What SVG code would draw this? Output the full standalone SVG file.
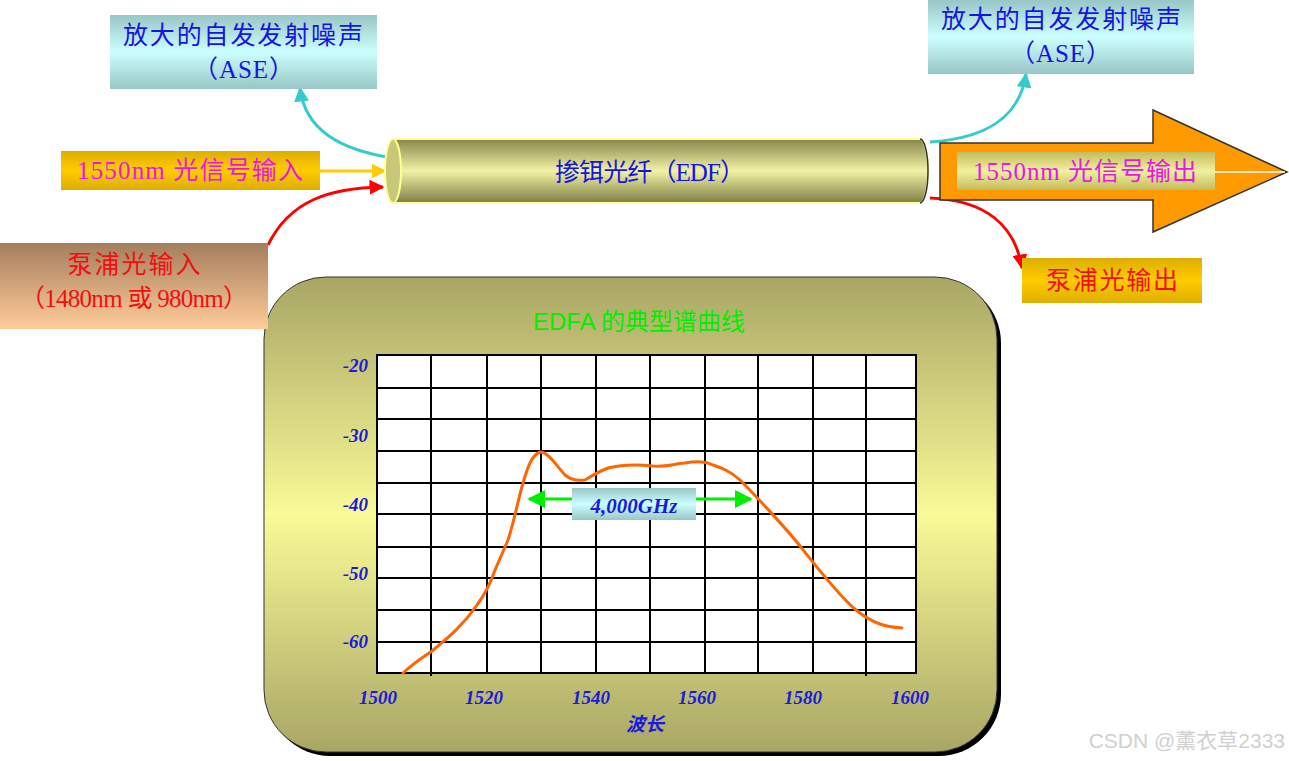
<svg xmlns="http://www.w3.org/2000/svg" width="1289" height="761" viewBox="0 0 1289 761">
<defs>
<linearGradient id="gAse" x1="0" y1="0" x2="0" y2="1"><stop offset="0" stop-color="#99C6C6"/><stop offset="0.5" stop-color="#CCFFFF"/><stop offset="1" stop-color="#99C6C6"/></linearGradient>
<linearGradient id="gTube" x1="0" y1="0" x2="0" y2="1"><stop offset="0" stop-color="#86864A"/><stop offset="0.5" stop-color="#F2F2A6"/><stop offset="1" stop-color="#7E7E44"/></linearGradient>
<linearGradient id="gGold" x1="0" y1="0" x2="0" y2="1"><stop offset="0" stop-color="#DDAE00"/><stop offset="0.5" stop-color="#FFCC00"/><stop offset="1" stop-color="#DDAE00"/></linearGradient>
<linearGradient id="gPump" x1="0" y1="0" x2="0" y2="1"><stop offset="0" stop-color="#A47E5E"/><stop offset="1" stop-color="#FFCC99"/></linearGradient>
<linearGradient id="gOut" x1="0" y1="0" x2="0" y2="1"><stop offset="0" stop-color="#C4BC5A"/><stop offset="0.5" stop-color="#F2F0A0"/><stop offset="1" stop-color="#C4BC5A"/></linearGradient>
<linearGradient id="gPanel" x1="0" y1="0" x2="0" y2="1"><stop offset="0" stop-color="#A8A664"/><stop offset="0.5" stop-color="#FAFA98"/><stop offset="1" stop-color="#A8A664"/></linearGradient>
<marker id="mCyan" viewBox="0 0 10 10" refX="9" refY="5" markerWidth="5" markerHeight="5" orient="auto" markerUnits="strokeWidth"><path d="M0,0 L10,5 L0,10 Z" fill="#33CCCC"/></marker>
<marker id="mRed" viewBox="0 0 10 10" refX="9" refY="5" markerWidth="5" markerHeight="5" orient="auto" markerUnits="strokeWidth"><path d="M0,0 L10,5 L0,10 Z" fill="#FF0000"/></marker>
<marker id="mYel" viewBox="0 0 10 10" refX="9" refY="5" markerWidth="5" markerHeight="5" orient="auto" markerUnits="strokeWidth"><path d="M0,0 L10,5 L0,10 Z" fill="#FFCC00"/></marker>
<marker id="mGrn" viewBox="0 0 10 10" refX="9" refY="5" markerWidth="6" markerHeight="6" orient="auto-start-reverse" markerUnits="strokeWidth"><path d="M0,0 L10,5 L0,10 Z" fill="#00EE00"/></marker>
</defs>
<style>
.cjk{font-family:"Liberation Serif","Noto Sans CJK SC",serif;font-size:25px;text-anchor:middle}
.blue{fill:#1515E0}
.mag{fill:#E617E6}
.red{fill:#F01010}
.ax{font-family:"Liberation Serif","Noto Sans CJK SC",serif;font-size:19px;font-weight:bold;font-style:italic;fill:#1A1ADC}
.grid line{stroke:#000;stroke-width:2}
</style>
<rect width="1289" height="761" fill="#FFFFFF"/>

<g id="chart-panel">
<rect x="268" y="281" width="733" height="475" rx="62" fill="#000"/>
<rect x="264" y="277" width="733" height="475" rx="62" fill="url(#gPanel)" stroke="#333" stroke-width="1"/>
<text x="639" y="330" font-family="Liberation Sans,'Noto Sans CJK SC',sans-serif" font-size="24" fill="#00EE00" text-anchor="middle">EDFA 的典型谱曲线</text>
</g>

<g id="chart-grid" class="grid">
<rect x="377" y="355" width="539" height="318" fill="#FFFFFF" stroke="#000" stroke-width="2"/>
<line x1="377" y1="388" x2="916" y2="388"/>
<line x1="377" y1="419" x2="916" y2="419"/>
<line x1="377" y1="451" x2="916" y2="451"/>
<line x1="377" y1="483" x2="916" y2="483"/>
<line x1="377" y1="514" x2="916" y2="514"/>
<line x1="377" y1="547" x2="916" y2="547"/>
<line x1="377" y1="578" x2="916" y2="578"/>
<line x1="377" y1="610" x2="916" y2="610"/>
<line x1="377" y1="642" x2="916" y2="642"/>
<line x1="431" y1="355" x2="431" y2="676"/>
<line x1="487" y1="355" x2="487" y2="673"/>
<line x1="541" y1="355" x2="541" y2="673"/>
<line x1="596" y1="355" x2="596" y2="673"/>
<line x1="650" y1="355" x2="650" y2="673"/>
<line x1="705" y1="355" x2="705" y2="673"/>
<line x1="758" y1="355" x2="758" y2="673"/>
<line x1="813" y1="355" x2="813" y2="673"/>
<line x1="866" y1="355" x2="866" y2="676"/>
</g>

<g id="chart-labels">
<text class="ax" x="368" y="372" text-anchor="end">-20</text>
<text class="ax" x="368" y="442" text-anchor="end">-30</text>
<text class="ax" x="368" y="511" text-anchor="end">-40</text>
<text class="ax" x="368" y="580" text-anchor="end">-50</text>
<text class="ax" x="368" y="648" text-anchor="end">-60</text>
<text class="ax" x="378" y="704" text-anchor="middle">1500</text>
<text class="ax" x="484" y="704" text-anchor="middle">1520</text>
<text class="ax" x="591" y="704" text-anchor="middle">1540</text>
<text class="ax" x="697" y="704" text-anchor="middle">1560</text>
<text class="ax" x="803" y="704" text-anchor="middle">1580</text>
<text class="ax" x="910" y="704" text-anchor="middle">1600</text>
<text class="ax" x="645" y="731" text-anchor="middle">波长</text>
</g>

<g id="spectrum-curve">
<path d="M403,673 C415,662 425,656 432,651 C445,640 462,627 477,605 C485,594 490,585 495,570 C501,556 505,547 508,540 C514,522 518,500 523,483 C528,466 532,455 540,452 C548,452 556,465 565,475 C571,480 578,481 585,480 C592,476 597,472 608,468 C620,465 635,464 653,466 C668,467 672,464 685,463 C695,461 705,461 713,465 C722,468 730,471 740,480 C752,492 785,527 800,546 S840,597 856,610 S885,627 902,628" fill="none" stroke="#FF6600" stroke-width="3" stroke-linecap="round"/>
</g>

<g id="bandwidth">
<line x1="529" y1="499" x2="751" y2="499" stroke="#00EE00" stroke-width="3" marker-start="url(#mGrn)" marker-end="url(#mGrn)"/>
<rect x="572" y="488" width="124" height="32" fill="url(#gAse)"/>
<text x="634" y="513" font-family="Liberation Serif,serif" font-size="21" font-weight="bold" font-style="italic" fill="#1A1ADC" text-anchor="middle">4,000GHz</text>
</g>

<g id="connectors" fill="none">
<line x1="320" y1="171" x2="385" y2="171" stroke="#FFCC00" stroke-width="3" marker-end="url(#mYel)"/>
<path d="M268,245 C290,200 330,188 383,187" stroke="#FF0000" stroke-width="3" marker-end="url(#mRed)"/>
<path d="M393,158 C340,150 305,130 300,88" stroke="#33CCCC" stroke-width="3" marker-end="url(#mCyan)"/>
<path d="M930,142 C990,138 1020,115 1026,74" stroke="#33CCCC" stroke-width="3" marker-end="url(#mCyan)"/>
<path d="M930,198 C985,200 1015,225 1022,268" stroke="#FF0000" stroke-width="3" marker-end="url(#mRed)"/>
</g>

<g id="ase-left">
<rect x="110" y="15" width="267" height="74" fill="url(#gAse)"/>
<text class="cjk blue" x="243" y="44" textLength="240">放大的自发发射噪声</text>
<text class="cjk blue" x="244" y="78" letter-spacing="1">（ASE）</text>
</g>

<g id="ase-right">
<rect x="928" y="0" width="266" height="74" fill="url(#gAse)"/>
<text class="cjk blue" x="1061" y="28" textLength="240">放大的自发发射噪声</text>
<text class="cjk blue" x="1061" y="62" letter-spacing="1">（ASE）</text>
</g>

<g id="signal-input">
<rect x="61" y="151" width="259" height="39" fill="url(#gGold)"/>
<text class="cjk mag" x="190" y="179" textLength="226">1550nm 光信号输入</text>
</g>

<g id="pump-input">
<rect x="0" y="243" width="268" height="86" fill="url(#gPump)"/>
<text class="cjk red" x="134" y="273" textLength="133">泵浦光输入</text>
<text class="cjk red" x="134" y="307" textLength="228">（1480nm 或 980nm）</text>
</g>

<g id="fiber">
<path d="M393,139 L920,139 A8,32 0 0 1 920,203 L393,203 Z" fill="url(#gTube)" stroke="#FFFF99" stroke-width="2"/>
<ellipse cx="393" cy="171" rx="8" ry="32" fill="#C8C878" stroke="#FFFF99" stroke-width="2"/>
<path d="M920,139 A8,32 0 0 1 920,203" fill="none" stroke="#333" stroke-width="1.5"/>
<text class="cjk blue" x="650" y="181" textLength="190">掺铒光纤（EDF）</text>
</g>

<g id="signal-output">
<path d="M940,143 L1153,143 L1153,110 L1287,172 L1153,232 L1153,200 L940,200 Z" fill="#FF9900" stroke="#333" stroke-width="1.5"/>
<rect x="957" y="152" width="258" height="38" fill="url(#gOut)"/>
<line x1="1215" y1="172" x2="1285" y2="172" stroke="#FFFFFF" stroke-width="1.5"/>
<text class="cjk mag" x="1085" y="180" textLength="224">1550nm 光信号输出</text>
</g>

<g id="pump-output">
<rect x="1022" y="258" width="180" height="45" fill="url(#gGold)"/>
<text class="cjk red" x="1112" y="289" textLength="132">泵浦光输出</text>
</g>

<text x="1285" y="748" font-family="Liberation Sans,'Noto Sans CJK SC',sans-serif" font-size="21" fill="#D0D0D0" text-anchor="end">CSDN @薰衣草2333</text>
</svg>
